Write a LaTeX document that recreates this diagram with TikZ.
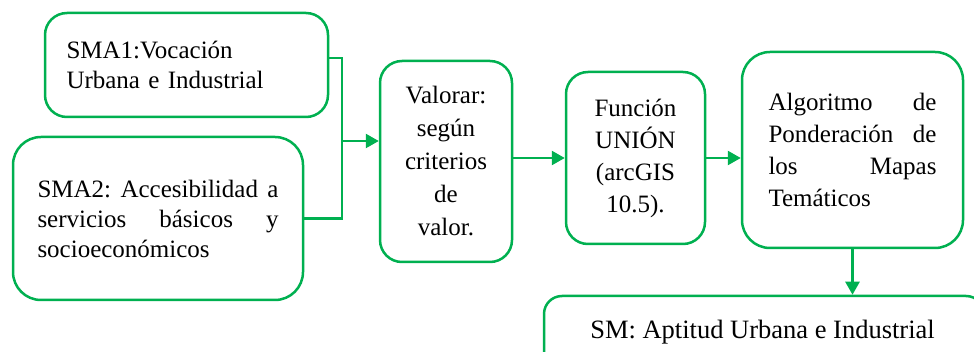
\documentclass[tikz,border=0pt]{standalone}
\usepackage{fontspec}
\setmainfont{Liberation Serif}
\usetikzlibrary{arrows.meta}
\definecolor{boxgreen}{RGB}{0,176,80}
% a line of text spread over a given width
\newcommand{\spreadline}[2]{\hbox to #1{#2}}
\begin{document}
\begin{tikzpicture}[x=1pt,y=-1pt,
  box/.style={draw=boxgreen, line width=2.5pt, rounded corners=22pt, inner sep=0pt,
              font=\fontsize{25}{30}\selectfont},
  wire/.style={draw=boxgreen, line width=2.5pt},
  link/.style={wire, -{Triangle[length=13pt,width=14pt]}}]
\useasboundingbox (0,0) rectangle (974,352);
\clip (0,0) rectangle (974,352);

% input maps
\node[box, minimum width=283pt, minimum height=104pt, text width=240pt, align=left]
  (sma1) at (186.5,65) {SMA1:Vocación\\Urbana e Industrial};
\node[box, rounded corners=28pt, minimum width=290pt, minimum height=163pt,
      text width=241pt, align=left]
  (sma2) at (158,218.5)
  {\spreadline{241pt}{SMA2:\hfill Accesibilidad\hfill a}
   \spreadline{241pt}{servicios\hfill básicos\hfill y}
   \spreadline{241pt}{socioeconómicos\hfil}};

% processing steps
\node[box, minimum width=132pt, minimum height=201pt, align=center,
      font=\fontsize{25}{33}\selectfont]
  (valorar) at (446,161.5) {Valorar:\\según\\criterios\\de\\valor.};
\node[box, minimum width=139pt, minimum height=172pt, align=center,
      font=\fontsize{25}{32}\selectfont]
  (funcion) at (635.5,158) {Función\\UNIÓN\\(arcGIS\\10.5).};
\node[box, rounded corners=28pt, minimum width=221pt, minimum height=196pt,
      text width=168pt, align=left, font=\fontsize{25}{32}\selectfont]
  (algoritmo) at (852.5,150)
  {\spreadline{168pt}{Algoritmo\hfill de}
   \spreadline{168pt}{Ponderación\hfill de}
   \spreadline{168pt}{los\hfill Mapas}
   \spreadline{168pt}{Temáticos\hfil}};

% resulting map
\node[box, rounded corners=18pt, minimum width=440pt, minimum height=90pt]
  (sm) at (764,341) {};
\node[font=\fontsize{26.5}{30}\selectfont, anchor=base]
  (smlabel) at (762.5,338) {SM: Aptitud Urbana e Industrial};

% connectors
\coordinate (jn) at (342,141);
\draw[wire] ([yshift=7pt]sma1.east) -| (jn) |- (sma2.east);
\draw[link] (jn) -- (jn -| valorar.west);
\draw[link] (valorar.east |- funcion.west) -- (funcion.west);
\draw[link] (funcion.east) -- (funcion.east -| algoritmo.west);
\draw[link] (algoritmo.south) -- (algoritmo.south |- sm.north);
\end{tikzpicture}
\end{document}
